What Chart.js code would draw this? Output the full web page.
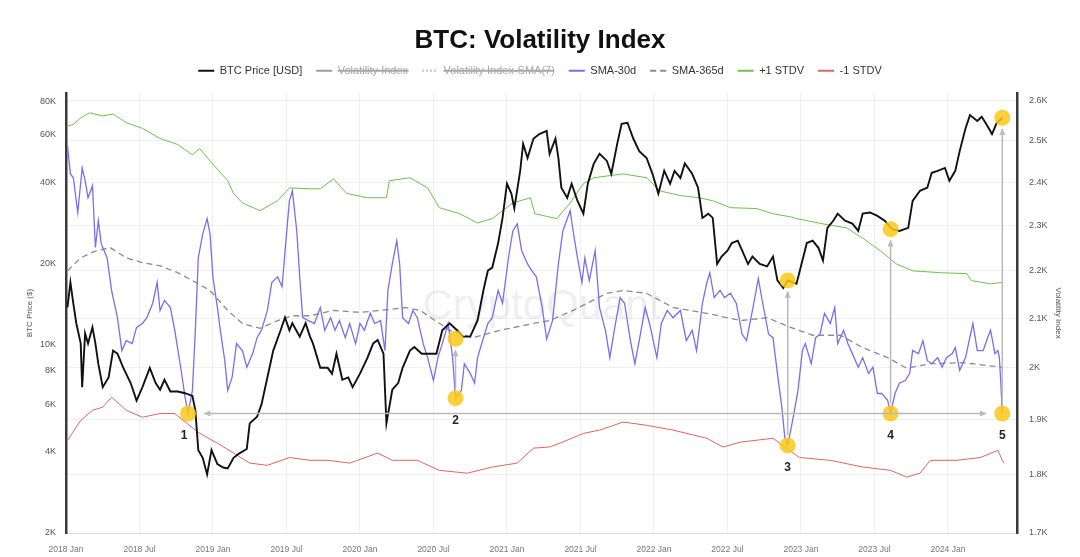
<!DOCTYPE html>
<html lang="en">
<head>
<meta charset="utf-8">
<title>BTC: Volatility Index</title>
<script src="https://cdn.jsdelivr.net/npm/chart.js@4.4.1/dist/chart.umd.min.js"></script>
<style>
  html, body { margin: 0; padding: 0; background: #fff; }
  .chart-box { position: relative; width: 1080px; height: 557px; }
</style>
</head>
<body>
<div class="chart-box"><canvas id="chartVolatility"></canvas></div>
<script>
// x values are decimal years (2019.5 = 2019 Jul)
const dateTicks = [2018, 2018.5, 2019, 2019.5, 2020, 2020.5, 2021, 2021.5, 2022, 2022.5, 2023, 2023.5, 2024];
const dateTickLabels = ['2018 Jan', '2018 Jul', '2019 Jan', '2019 Jul', '2020 Jan', '2020 Jul', '2021 Jan',
    '2021 Jul', '2022 Jan', '2022 Jul', '2023 Jan', '2023 Jul', '2024 Jan'];
const priceTicks = [2000, 4000, 6000, 8000, 10000, 20000, 40000, 60000, 80000];
const priceTickLabels = ['2K', '4K', '6K', '8K', '10K', '20K', '40K', '60K', '80K'];
const volTicks = [1700, 1800, 1900, 2000, 2100, 2200, 2300, 2400, 2500, 2600];
const volTickLabels = ['1.7K', '1.8K', '1.9K', '2K', '2.1K', '2.2K', '2.3K', '2.4K', '2.5K', '2.6K'];

// BTC Price [USD]
const priceYears = [2018.01, 2018.03, 2018.05, 2018.07, 2018.10, 2018.11, 2018.13, 2018.15, 2018.18, 2018.20,
    2018.22, 2018.25, 2018.29, 2018.32, 2018.35, 2018.39, 2018.44, 2018.48, 2018.52, 2018.57,
    2018.61, 2018.64, 2018.67, 2018.71, 2018.76, 2018.81, 2018.86, 2018.88, 2018.90, 2018.93,
    2018.96, 2018.99, 2019.03, 2019.07, 2019.10, 2019.14, 2019.18, 2019.23, 2019.25, 2019.30,
    2019.33, 2019.37, 2019.41, 2019.46, 2019.49, 2019.52, 2019.54, 2019.59, 2019.63, 2019.66,
    2019.68, 2019.73, 2019.78, 2019.81, 2019.84, 2019.88, 2019.92, 2019.95, 2020.00, 2020.05,
    2020.09, 2020.12, 2020.16, 2020.18, 2020.22, 2020.26, 2020.29, 2020.34, 2020.37, 2020.42,
    2020.48, 2020.52, 2020.56, 2020.61, 2020.66, 2020.70, 2020.75, 2020.80, 2020.84, 2020.87,
    2020.90, 2020.94, 2020.97, 2021.00, 2021.03, 2021.05, 2021.09, 2021.11, 2021.14, 2021.18,
    2021.22, 2021.27, 2021.29, 2021.33, 2021.35, 2021.37, 2021.41, 2021.44, 2021.48, 2021.52,
    2021.55, 2021.59, 2021.63, 2021.68, 2021.71, 2021.75, 2021.78, 2021.82, 2021.86, 2021.90,
    2021.95, 2021.99, 2022.03, 2022.07, 2022.11, 2022.14, 2022.18, 2022.21, 2022.26, 2022.30,
    2022.33, 2022.37, 2022.40, 2022.43, 2022.46, 2022.50, 2022.53, 2022.57, 2022.61, 2022.64,
    2022.67, 2022.72, 2022.77, 2022.81, 2022.84, 2022.88, 2022.91, 2022.97, 2023.01, 2023.04,
    2023.08, 2023.12, 2023.15, 2023.18, 2023.22, 2023.25, 2023.30, 2023.35, 2023.39, 2023.42,
    2023.47, 2023.52, 2023.57, 2023.62, 2023.67, 2023.73, 2023.76, 2023.81, 2023.86, 2023.89,
    2023.93, 2023.98, 2024.01, 2024.05, 2024.08, 2024.12, 2024.15, 2024.20, 2024.23, 2024.27,
    2024.30, 2024.33, 2024.37];
const priceValues = [13750, 17000, 14200, 12000, 10100, 6950, 11000, 10100, 11600, 10100,
    8480, 6950, 7550, 9500, 9250, 8200, 7200, 6200, 6950, 8200,
    7200, 6800, 7400, 6700, 6700, 6600, 6450, 5700, 4060, 3800,
    3300, 4060, 3600, 3500, 3470, 3800, 3950, 4100, 5100, 5400,
    6000, 7550, 9500, 11300, 12600, 11300, 12000, 10700, 12000, 10700,
    10100, 8200, 8200, 7800, 9250, 7400, 7550, 6950, 7800, 8900,
    10100, 10400, 9250, 5100, 6800, 7200, 8200, 9500, 9800, 9250,
    9250, 9250, 11300, 12000, 11300, 10700, 10700, 12300, 15900, 18800,
    19300, 23800, 29500, 39500, 36300, 32000, 44100, 55500, 49200, 58000,
    60400, 62000, 51000, 58000, 49200, 38200, 35000, 39500, 34100, 30600,
    39500, 46800, 51000, 48000, 43000, 55500, 65900, 66500, 58000, 52200,
    49200, 43000, 36300, 44100, 39500, 44100, 41500, 47000, 43000, 38200,
    29500, 30600, 29500, 19900, 21200, 22300, 23800, 24300, 21700, 19900,
    21200, 19900, 19500, 21200, 17300, 16200, 17300, 16800, 20500, 23800,
    24300, 22800, 20500, 27100, 28800, 30600, 28800, 28100, 26400, 30600,
    30900, 30000, 28800, 26800, 26400, 27100, 34100, 37200, 38200, 43400,
    44100, 45200, 40500, 44100, 52200, 63500, 71000, 67500, 70000, 64500,
    60400, 66000, 69400];

// SMA-30d of the volatility index
const sma30Years = [2018.01, 2018.03, 2018.05, 2018.07, 2018.08, 2018.11, 2018.13, 2018.15, 2018.18, 2018.20,
    2018.22, 2018.24, 2018.28, 2018.31, 2018.35, 2018.38, 2018.41, 2018.45, 2018.48, 2018.52,
    2018.55, 2018.59, 2018.62, 2018.64, 2018.67, 2018.71, 2018.74, 2018.78, 2018.81, 2018.83,
    2018.86, 2018.88, 2018.90, 2018.93, 2018.96, 2018.98, 2019.00, 2019.03, 2019.05, 2019.08,
    2019.10, 2019.13, 2019.16, 2019.20, 2019.23, 2019.27, 2019.30, 2019.33, 2019.37, 2019.40,
    2019.44, 2019.47, 2019.50, 2019.52, 2019.54, 2019.57, 2019.59, 2019.61, 2019.65, 2019.69,
    2019.73, 2019.76, 2019.80, 2019.83, 2019.86, 2019.90, 2019.93, 2019.97, 2020.00, 2020.03,
    2020.07, 2020.10, 2020.14, 2020.17, 2020.19, 2020.22, 2020.25, 2020.27, 2020.29, 2020.33,
    2020.36, 2020.39, 2020.43, 2020.46, 2020.50, 2020.53, 2020.56, 2020.60, 2020.63, 2020.65,
    2020.69, 2020.71, 2020.75, 2020.78, 2020.80, 2020.84, 2020.87, 2020.90, 2020.94, 2020.97,
    2021.01, 2021.04, 2021.07, 2021.10, 2021.14, 2021.17, 2021.20, 2021.24, 2021.27, 2021.31,
    2021.35, 2021.38, 2021.43, 2021.45, 2021.48, 2021.51, 2021.53, 2021.56, 2021.60, 2021.63,
    2021.67, 2021.70, 2021.73, 2021.77, 2021.80, 2021.84, 2021.87, 2021.90, 2021.94, 2021.97,
    2022.02, 2022.05, 2022.09, 2022.13, 2022.18, 2022.22, 2022.26, 2022.29, 2022.33, 2022.36,
    2022.38, 2022.41, 2022.45, 2022.48, 2022.52, 2022.56, 2022.60, 2022.63, 2022.67, 2022.71,
    2022.74, 2022.78, 2022.81, 2022.84, 2022.87, 2022.89, 2022.91, 2022.94, 2022.96, 2022.98,
    2023.01, 2023.03, 2023.05, 2023.07, 2023.10, 2023.13, 2023.16, 2023.20, 2023.23, 2023.25,
    2023.29, 2023.32, 2023.35, 2023.39, 2023.42, 2023.46, 2023.49, 2023.52, 2023.55, 2023.59,
    2023.61, 2023.64, 2023.67, 2023.71, 2023.74, 2023.76, 2023.80, 2023.83, 2023.86, 2023.89,
    2023.93, 2023.96, 2023.99, 2024.03, 2024.05, 2024.08, 2024.12, 2024.14, 2024.17, 2024.20,
    2024.24, 2024.27, 2024.29, 2024.32, 2024.34, 2024.35, 2024.36, 2024.37];
const sma30Values = [2488, 2420, 2411, 2357, 2330, 2434, 2404, 2364, 2392, 2251,
    2311, 2259, 2228, 2158, 2101, 2034, 2054, 2048, 2081, 2089,
    2101, 2131, 2175, 2116, 2137, 2122, 2075, 2001, 1943, 1912,
    1956, 2075, 2228, 2281, 2316, 2281, 2185, 2122, 2075, 2014,
    1956, 1981, 2048, 2034, 2001, 2028, 2060, 2075, 2116, 2175,
    2187, 2166, 2281, 2357, 2380, 2288, 2187, 2101, 2095, 2089,
    2122, 2075, 2101, 2075, 2095, 2060, 2089, 2048, 2089, 2075,
    2110, 2089, 2095, 2034, 2158, 2215, 2266, 2215, 2101, 2089,
    2116, 2101, 2048, 2020, 1975, 2020, 2048, 2089, 2020, 1941,
    1956, 2008, 1989, 1970, 2020, 2060, 2089, 2101, 2158, 2131,
    2228, 2288, 2304, 2244, 2215, 2200, 2187, 2122, 2057, 2095,
    2215, 2288, 2334, 2288, 2228, 2175, 2228, 2179, 2244, 2122,
    2075, 2020, 2075, 2143, 2131, 2054, 2008, 2054, 2122, 2089,
    2020, 2089, 2116, 2101, 2116, 2054, 2075, 2034, 2131, 2175,
    2196, 2143, 2158, 2143, 2152, 2131, 2067, 2054, 2116, 2183,
    2131, 2067, 2060, 1989, 1924, 1868, 1853, 1894, 1924, 1956,
    2034, 2048, 2028, 2008, 2060, 2067, 2110, 2089, 2122, 2048,
    2075, 2048, 2028, 2001, 2020, 1989, 2001, 1950, 1950, 1937,
    1912, 1950, 1970, 1975, 1989, 2034, 2028, 2054, 2014, 2008,
    2020, 2001, 2020, 2028, 2040, 1995, 2020, 2048, 2089, 2034,
    2034, 2060, 2075, 2028, 2034, 2020, 1970, 1912];

// SMA-365d
const sma365Years = [2018.01, 2018.10, 2018.18, 2018.30, 2018.41, 2018.52, 2018.64, 2018.76, 2018.86, 2018.98,
    2019.10, 2019.20, 2019.32, 2019.44, 2019.54, 2019.66, 2019.82, 2020.00, 2020.14, 2020.31,
    2020.41, 2020.61, 2020.77, 2020.95, 2021.18, 2021.29, 2021.45, 2021.68, 2021.79, 2021.95,
    2022.13, 2022.36, 2022.59, 2022.77, 2022.93, 2023.08, 2023.27, 2023.42, 2023.59, 2023.72,
    2023.88, 2024.10, 2024.37];
const sma365Values = [2200, 2228, 2241, 2251, 2228, 2218, 2211, 2196, 2179, 2158,
    2116, 2089, 2079, 2095, 2105, 2105, 2116, 2112, 2116, 2122,
    2116, 2075, 2060, 2075, 2089, 2095, 2116, 2152, 2158, 2152,
    2122, 2110, 2095, 2101, 2081, 2065, 2065, 2040, 2020, 1999,
    2008, 2010, 2001];

// +1 STDV
const upperYears = [2018.01, 2018.05, 2018.10, 2018.16, 2018.25, 2018.32, 2018.41, 2018.52, 2018.64, 2018.76,
    2018.86, 2018.91, 2018.98, 2019.10, 2019.14, 2019.20, 2019.32, 2019.44, 2019.52, 2019.66,
    2019.73, 2019.82, 2019.91, 2020.05, 2020.18, 2020.20, 2020.34, 2020.46, 2020.54, 2020.68,
    2020.80, 2020.90, 2021.04, 2021.16, 2021.19, 2021.34, 2021.43, 2021.52, 2021.59, 2021.79,
    2021.95, 2022.04, 2022.18, 2022.31, 2022.40, 2022.52, 2022.70, 2022.81, 2022.93, 2022.97,
    2023.15, 2023.31, 2023.42, 2023.54, 2023.65, 2023.76, 2023.95, 2024.13, 2024.16, 2024.29,
    2024.37];
const upperValues = [2536, 2541, 2557, 2570, 2562, 2567, 2545, 2531, 2506, 2491,
    2466, 2481, 2451, 2404, 2374, 2352, 2334, 2357, 2387, 2385,
    2385, 2408, 2374, 2364, 2364, 2404, 2411, 2387, 2341, 2327,
    2306, 2316, 2352, 2364, 2327, 2316, 2352, 2397, 2411, 2420,
    2411, 2380, 2369, 2364, 2357, 2341, 2339, 2327, 2320, 2316,
    2304, 2295, 2272, 2244, 2215, 2200, 2196, 2194, 2179, 2172,
    2175];

// -1 STDV
const lowerYears = [2018.01, 2018.10, 2018.18, 2018.25, 2018.31, 2018.41, 2018.52, 2018.64, 2018.74, 2018.82,
    2018.91, 2019.03, 2019.14, 2019.25, 2019.37, 2019.52, 2019.66, 2019.78, 2019.93, 2020.12,
    2020.22, 2020.39, 2020.54, 2020.73, 2020.90, 2021.07, 2021.18, 2021.29, 2021.36, 2021.52,
    2021.63, 2021.79, 2021.95, 2022.13, 2022.36, 2022.47, 2022.59, 2022.81, 2022.90, 2022.99,
    2023.20, 2023.42, 2023.61, 2023.72, 2023.81, 2023.88, 2024.06, 2024.22, 2024.34, 2024.37,
    2024.38];
const lowerValues = [1862, 1899, 1918, 1924, 1943, 1918, 1905, 1912, 1912, 1894,
    1875, 1857, 1839, 1821, 1817, 1831, 1826, 1826, 1821, 1839,
    1826, 1826, 1808, 1803, 1814, 1821, 1848, 1850, 1857, 1875,
    1881, 1896, 1890, 1881, 1866, 1850, 1859, 1866, 1848, 1831,
    1826, 1814, 1808, 1796, 1803, 1826, 1826, 1831, 1844, 1826,
    1821];

// highlighted points: low on SMA-30d, high on BTC price
const markYears = [2018.83, 2020.65, 2022.91, 2023.61, 2024.37];
const markVolValues = [1912, 1941, 1853, 1912, 1912];
const markPriceValues = [null, 10500, 17300, 26800, 69400];
const markLabels = ['1', '2', '3', '4', '5'];

const toPoints = (xs, ys) => xs.map((x, i) => ({ x: x, y: ys[i] }));
const markColor = 'rgba(250, 200, 25, 0.85)';

Chart.defaults.font.family = '"Liberation Sans", Arial, Helvetica, sans-serif';
Chart.defaults.color = '#555';

function drawArrow(ctx, x1, y1, x2, y2, both) {
    ctx.beginPath();
    ctx.moveTo(x1, y1);
    ctx.lineTo(x2, y2);
    ctx.stroke();
    const head = (x, y, ang) => {
        ctx.beginPath();
        ctx.moveTo(x, y);
        ctx.lineTo(x - 7 * Math.cos(ang - 0.45), y - 7 * Math.sin(ang - 0.45));
        ctx.lineTo(x - 7 * Math.cos(ang + 0.45), y - 7 * Math.sin(ang + 0.45));
        ctx.closePath();
        ctx.fill();
    };
    const ang = Math.atan2(y2 - y1, x2 - x1);
    head(x2, y2, ang);
    if (both) head(x1, y1, ang + Math.PI);
}

const annotationPlugin = {
    id: 'volAnnotations',
    beforeInit(chart) {
        // a little room between the legend and the plot
        const fit = chart.legend.fit;
        chart.legend.fit = function () {
            fit.call(this);
            this.height += 7;
        };
    },
    beforeDatasetsDraw(chart) {
        const { ctx, chartArea } = chart;
        ctx.save();
        ctx.font = '42px "Liberation Sans", Arial, sans-serif';
        ctx.fillStyle = 'rgba(180, 180, 195, 0.22)';
        ctx.textAlign = 'center';
        ctx.textBaseline = 'middle';
        ctx.fillText('CryptoQuant', (chartArea.left + chartArea.right) / 2, (chartArea.top + chartArea.bottom) / 2 - 6);
        ctx.restore();
    },
    afterDatasetsDraw(chart) {
        const { ctx, scales } = chart;
        const xs = markYears.map(v => scales.x.getPixelForValue(v));
        const lows = markVolValues.map(v => scales.yVol.getPixelForValue(v));
        const highs = markPriceValues.map(v => v === null ? null : scales.yPrice.getPixelForValue(v));
        const last = xs.length - 1;

        ctx.save();
        ctx.strokeStyle = '#b9b9b9';
        ctx.fillStyle = '#b9b9b9';
        ctx.lineWidth = 1.5;
        drawArrow(ctx, xs[0] + 16, lows[0], xs[last] - 16, lows[0], true);
        highs.forEach((h, i) => {
            if (h !== null) drawArrow(ctx, xs[i], lows[i] - 10, xs[i], h + 11, false);
        });

        ctx.fillStyle = '#222';
        ctx.font = 'bold 12px "Liberation Sans", Arial, sans-serif';
        ctx.textAlign = 'center';
        ctx.textBaseline = 'middle';
        markLabels.forEach((t, i) => ctx.fillText(t, xs[i] - (i === 0 ? 4 : 0), lows[i] + 22));
        ctx.restore();
    }
};

const lineSet = (label, xs, ys, color, width, axis, extra) => Object.assign({
    label: label,
    data: toPoints(xs, ys),
    yAxisID: axis,
    borderColor: color,
    backgroundColor: color,
    borderWidth: width,
    pointRadius: 0,
    pointStyle: 'line',
    tension: 0,
    fill: false
}, extra || {});

const ctx = document.getElementById('chartVolatility').getContext('2d');

new Chart(ctx, {
    type: 'line',
    data: {
        datasets: [
            {
                label: '',
                data: toPoints(markYears, markVolValues),
                yAxisID: 'yVol',
                showLine: false,
                pointRadius: 8,
                pointBackgroundColor: markColor,
                pointBorderWidth: 0,
                order: -1
            },
            {
                label: '',
                data: toPoints(markYears, markPriceValues),
                yAxisID: 'yPrice',
                showLine: false,
                pointRadius: 8,
                pointBackgroundColor: markColor,
                pointBorderWidth: 0,
                order: -1
            },
            lineSet('BTC Price [USD]', priceYears, priceValues, '#111111', 1.9, 'yPrice'),
            lineSet('Volatility Index', [], [], '#9a9a9a', 1, 'yVol', { hidden: true }),
            lineSet('Volatility Index-SMA(7)', [], [], '#c4c4c4', 1, 'yVol', { hidden: true, borderDash: [2, 2] }),
            lineSet('SMA-30d', sma30Years, sma30Values, '#7b6cf0', 1.3, 'yVol'),
            lineSet('SMA-365d', sma365Years, sma365Values, '#8c8c8c', 1.3, 'yVol', { borderDash: [6, 4] }),
            lineSet('+1 STDV', upperYears, upperValues, '#6cc24a', 1, 'yVol'),
            lineSet('-1 STDV', lowerYears, lowerValues, '#e0665e', 1, 'yVol')
        ]
    },
    options: {
        responsive: true,
        maintainAspectRatio: false,
        animation: false,
        events: [],
        layout: { padding: { top: 2, left: 0, right: 0, bottom: 0 } },
        plugins: {
            title: {
                display: true,
                text: 'BTC: Volatility Index',
                color: '#111',
                font: { size: 26, weight: 'bold' },
                padding: { top: 23, bottom: -5 }
            },
            legend: {
                labels: {
                    usePointStyle: true,
                    pointStyleWidth: 16,
                    color: '#333',
                    font: { size: 11 },
                    padding: 14,
                    filter: item => item.text !== '',
                    generateLabels(chart) {
                        const items = Chart.defaults.plugins.legend.labels.generateLabels(chart);
                        items.forEach(item => {
                            const ds = chart.data.datasets[item.datasetIndex];
                            item.strokeStyle = ds.borderColor;
                            item.lineWidth = 2;
                            item.lineDash = ds.borderDash || [];
                            if (item.hidden) item.fontColor = '#a8a8a8';
                        });
                        return items;
                    }
                }
            },
            tooltip: { enabled: false }
        },
        scales: {
            x: {
                type: 'linear',
                min: 2018,
                max: 2024.47,
                afterBuildTicks: scale => { scale.ticks = dateTicks.map(v => ({ value: v })); },
                afterFit: scale => { scale.height = 24; },
                ticks: {
                    callback: (v, i) => dateTickLabels[i],
                    font: { size: 8.5 },
                    color: '#777',
                    padding: 12,
                    maxRotation: 0
                },
                grid: { color: '#efefef', drawTicks: false },
                border: { color: '#dcdcdc' }
            },
            yPrice: {
                type: 'logarithmic',
                position: 'left',
                min: 2000,
                max: 85600,
                afterBuildTicks: scale => { scale.ticks = priceTicks.map(v => ({ value: v })); },
                afterFit: scale => { scale.width = 66; },
                ticks: {
                    callback: (v, i) => priceTickLabels[i],
                    font: { size: 9 },
                    color: '#555',
                    padding: 10
                },
                grid: { display: false, drawTicks: false },
                border: { display: true, color: '#3a3a3a', width: 2.5 },
                title: {
                    display: true,
                    text: 'BTC Price ($)',
                    font: { size: 8 },
                    color: '#555',
                    padding: { top: 25, bottom: 0 }
                }
            },
            yVol: {
                type: 'logarithmic',
                position: 'right',
                min: 1700,
                max: 2620,
                afterBuildTicks: scale => { scale.ticks = volTicks.map(v => ({ value: v })); },
                afterFit: scale => { scale.width = 63; },
                ticks: {
                    callback: (v, i) => volTickLabels[i],
                    font: { size: 9 },
                    color: '#555',
                    padding: 12
                },
                grid: { color: '#efefef', drawTicks: false },
                border: { display: true, color: '#3a3a3a', width: 2.5 },
                title: {
                    display: true,
                    text: 'Volatility Index',
                    font: { size: 8 },
                    color: '#555',
                    padding: { top: 17, bottom: 0 }
                }
            }
        }
    },
    plugins: [annotationPlugin]
});
</script>
</body>
</html>
